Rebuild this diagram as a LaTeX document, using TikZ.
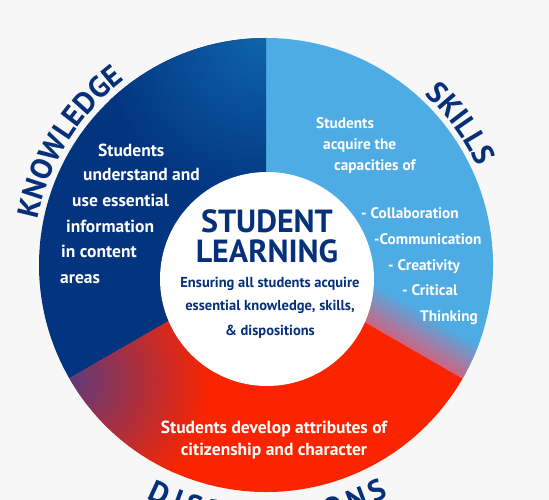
\documentclass[tikz,border=0pt]{standalone}
\usepackage{fontspec}
\setmainfont{PT Sans}
\usetikzlibrary{decorations.text}
\definecolor{bgray}{RGB}{247,247,247}
\definecolor{navy}{RGB}{2,52,128}
\definecolor{knowlight}{RGB}{14,100,170}
\definecolor{skyblue}{RGB}{78,172,228}
\definecolor{fire}{RGB}{250,36,0}
\definecolor{plum}{RGB}{95,58,122}
\definecolor{rose}{RGB}{205,100,130}
\definecolor{inkblue}{RGB}{6,48,122}
\newcommand\arcfont{\bfseries\fontsize{30}{30}\selectfont\color{inkblue}}

\begin{document}
\begin{tikzpicture}[x=1pt,y=1pt,
    wtext/.style={anchor=base west,inner sep=0pt,text=white,font=\bfseries\fontsize{17.5}{17.5}\selectfont},
    stext/.style={wtext,font=\bfseries\fontsize{15.3}{15.3}\selectfont},
    rtext/.style={anchor=base,inner sep=0pt,text=white,font=\bfseries\fontsize{17.5}{17.5}\selectfont},
    htitle/.style={anchor=base,inner sep=0pt,text=inkblue,font=\bfseries\fontsize{32}{32}\selectfont},
    hsub/.style={anchor=base,inner sep=0pt,text=inkblue,font=\bfseries\fontsize{14.5}{14.5}\selectfont},
    arclabel/.style={decorate,decoration={text along path,text align=center,text={|\arcfont|#1}}},
    arcfit/.style={decorate,decoration={text along path,text align=fit to path,text={|\arcfont|#1}}}]
    \useasboundingbox (0,0) rectangle (549,500);
    \fill[bgray] (0,0) rectangle (549,500);
    \clip (0,0) rectangle (549,500);
    \coordinate (c) at (266,235);
    \pgfmathsetmacro{\R}{227}
    \fill[navy] (c) -- ++(90:\R) arc[start angle=90,end angle=210,radius=\R] -- cycle;
    \fill[skyblue] (c) -- ++(-30:\R) arc[start angle=-30,end angle=90,radius=\R] -- cycle;
    \fill[fire] (c) -- ++(210:\R) arc[start angle=210,end angle=330,radius=\R] -- cycle;
    \begin{scope}
      \clip (c) -- ++(90:\R) arc[start angle=90,end angle=210,radius=\R] -- cycle;
      \shade[inner color=knowlight,outer color=navy] (262,462) circle (165);
    \end{scope}
    \begin{scope}
      \clip (c) -- ++(-30:\R) arc[start angle=-30,end angle=90,radius=\R] -- cycle;
      \shade[transform canvas={shift={(266pt,235pt)},rotate=-30},bottom color=rose,top color=skyblue] (0,0) rectangle (240,38);
    \end{scope}
    \begin{scope}
      \clip (c) -- ++(210:\R) arc[start angle=210,end angle=330,radius=\R] -- cycle;
      \shade[inner color=plum,outer color=fire] (70,120) circle (140);
    \end{scope}
    \node[circle,fill=white,minimum size=214pt,inner sep=0pt] (hub) at (267,221) {};
    \foreach \x/\y/\t [count=\i] in {98/343/Students,83/319/understand and,72/293/use essential,
        66/267/information,61/242/in content,60/216/areas}
      \node[wtext] (know\i) at (\x,\y) {\t};
    \foreach \x/\y/\t [count=\i] in {316/371/Students,323/350/acquire the,334/329/capacities of,
        361/281/- Collaboration,374/255/-Communication,388/229/- Creativity,402/204/- Critical,420/178/Thinking}
      \node[stext] (skill\i) at (\x,\y) {\t};
    \node[htitle] (title1) at (267,267) {STUDENT};
    \node[htitle] (title2) at (267,237) {LEARNING};
    \foreach \y/\t [count=\i] in {212/Ensuring all students acquire,189/{essential knowledge, skills,},164/\& dispositions}
      \node[hsub] (sub\i) at (270,\y) {\t};
    \node[rtext] (disp1) at (274,66) {Students develop attributes of};
    \node[rtext] (disp2) at (274,44) {citizenship and character};
    \path[arclabel=KNOWLEDGE] ([shift={(190:233)}]c) arc[start angle=190,end angle=106,radius=233];
    \path[arclabel=SKILLS] ([shift={(70:233)}]c) arc[start angle=70,end angle=2,radius=233];
    \path[arcfit=DISPOSITIONS] ([shift={(243:262)}]c) arc[start angle=243,end angle=298,radius=262];
\end{tikzpicture}
\end{document}
